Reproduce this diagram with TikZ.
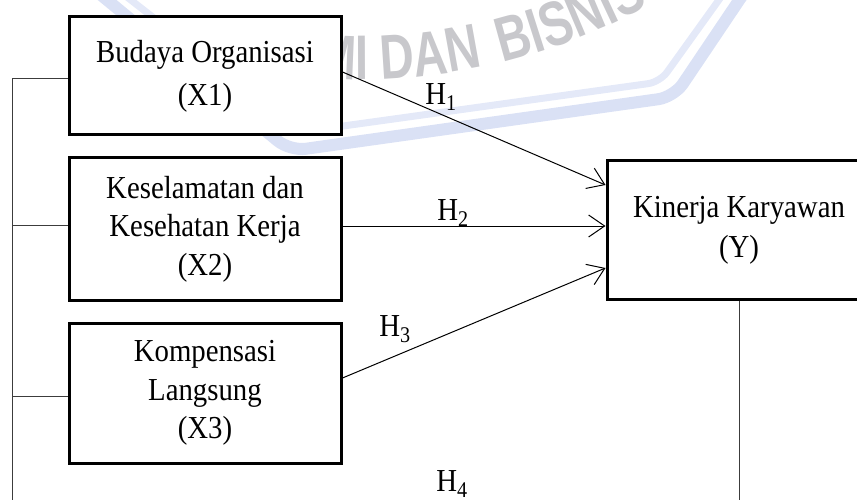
\documentclass[tikz,border=0pt]{standalone}
\usepackage{fontspec}
\setmainfont{Liberation Serif}[FakeStretch=0.9]
\newfontfamily\wmfont{Liberation Sans}[FakeStretch=0.75]
\usetikzlibrary{arrows.meta,calc,decorations.text}
\definecolor{band}{RGB}{218,225,245}
\definecolor{bandlight}{RGB}{228,233,248}
\definecolor{wmgray}{RGB}{200,200,204}
\definecolor{linegray}{RGB}{60,60,60}
\tikzset{
  varbox/.style={draw=black, line width=3pt, fill=white, inner sep=0pt, align=center,
    minimum width=272pt, font=\fontsize{32}{38.5}\selectfont},
  conn/.style={line width=1pt, -{Straight Barb[length=16pt,width=22pt]}},
  link/.style={line width=1pt, draw=linegray},
  hlab/.style={font=\fontsize{32}{32}\selectfont, inner sep=0pt},
  wmtext/.style={decorate, decoration={text along path, text color=wmgray, text={#1}}}
}
\begin{document}
\begin{tikzpicture}[x=1pt,y=1pt]
\useasboundingbox (0,0) rectangle (857,-500);
\clip (0,0) rectangle (857,-500);
% faint watermark
\draw[band, line width=12pt, rounded corners=16pt] (95,10) -- (290,-151) -- (674,-97) -- (746,10);
\draw[bandlight, line width=7pt, rounded corners=12pt] (118,10) -- (300,-132) -- (660,-82) -- (726,10);
\path[wmtext={|\wmfont\bfseries\fontsize{63}{63}\selectfont|MI DAN}]
  (359.5,520.5) ++(-94.15:600) arc[start angle=-94.15, end angle=-77.6, radius=600];
\path[wmtext={|\wmfont\bfseries\fontsize{63}{63}\selectfont|BISNIS}]
  (359.5,520.5) ++(-76.2:600) arc[start angle=-76.2, end angle=-40, radius=600];
% boxes
\node[varbox, minimum height=118pt, font=\fontsize{32}{43}\selectfont] (X1) at (205,-76) {Budaya Organisasi\\(X1)};
\node[varbox, minimum height=142pt] (X2) at (205,-229) {Keselamatan dan\\Kesehatan Kerja\\(X2)};
\node[varbox, minimum height=140pt] (X3) at (205,-393) {Kompensasi\\Langsung\\(X3)};
\node[varbox, minimum width=264pt, minimum height=138pt, font=\fontsize{32}{40}\selectfont] (Y) at (739,-230) {Kinerja Karyawan\\(Y)};
% arrows
\draw[conn] ([yshift=4pt]X1.east) -- ([yshift=45pt]Y.west);
\draw[conn] ([yshift=3pt]X2.east) -- ([yshift=3pt]X2.east -| Y.west);
\draw[conn] ([yshift=15pt]X3.east) -- ([yshift=-38pt]Y.west);
% labels
\node[hlab] (h1) at (441,-97) {H\textsubscript{1}};
\node[hlab] (h2) at (453,-213) {H\textsubscript{2}};
\node[hlab] (h3) at (395,-329) {H\textsubscript{3}};
\node[hlab] (h4) at (452,-484) {H\textsubscript{4}};
% left bracket
\coordinate (t1) at (12,-79);
\coordinate (t2) at (12,-225);
\coordinate (t3) at (12,-396);
\coordinate (bl) at (12,-505);
\draw[link] (bl) -- (t1) -- (t1 -| X1.west);
\draw[link] (t2) -- (t2 -| X2.west);
\draw[link] (t3) -- (t3 -| X3.west);
\draw[link] (Y.south) -- (Y.south |- bl);
\end{tikzpicture}
\end{document}
